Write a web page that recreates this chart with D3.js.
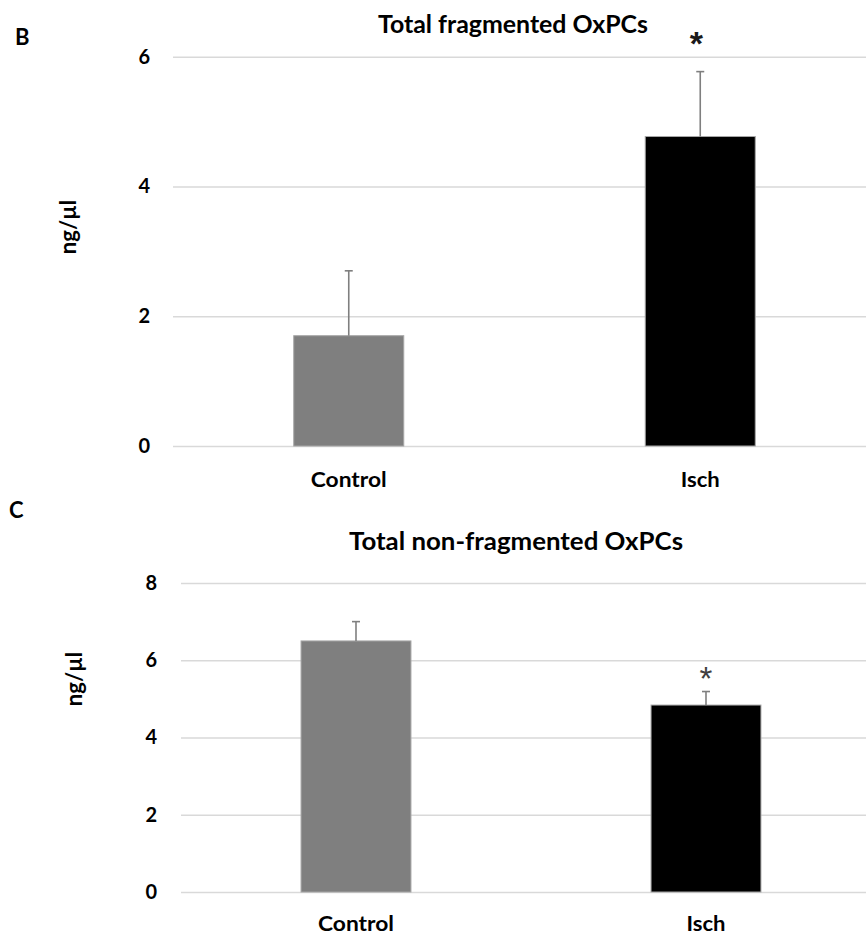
<!DOCTYPE html>
<html>
<head>
<meta charset="utf-8">
<script src="https://cdn.jsdelivr.net/npm/d3@7"></script>
<style>
  html, body { margin: 0; padding: 0; background: #fff; }
  svg { display: block; }
  text { font-family: Lato, "Open Sans", "Liberation Sans", sans-serif; font-weight: bold; fill: #000; }
</style>
</head>
<body>
<svg id="chart" width="866" height="934"></svg>
<script>
// Group names shared by both panels
const categories = ["Control", "Isch"];
const barColors = ["#7f7f7f", "#000000"];

// Panel B: total fragmented OxPCs (mean, SD) in ng/µl
const fragmentedMean = [1.7, 4.77];
const fragmentedErr = [1.0, 1.0];
const fragmentedTicks = [0, 2, 4, 6];
const fragmentedSig = [false, true];

// Panel C: total non-fragmented OxPCs (mean, SD) in ng/µl
const nonFragmentedMean = [6.5, 4.84];
const nonFragmentedErr = [0.5, 0.35];
const nonFragmentedTicks = [0, 2, 4, 6, 8];
const nonFragmentedSig = [false, true];

const svg = d3.select("#chart");
const W = 866;

function drawPanel(o) {
  const g = svg.append("g");

  const x = d3.scaleBand()
    .domain(categories)
    .range([o.left, o.right])
    .paddingInner(o.gap)
    .paddingOuter(o.gap / 2);

  const y = d3.scaleLinear()
    .domain([0, d3.max(o.ticks)])
    .range([o.bottom, o.top]);

  // gridlines + tick labels
  const axis = d3.axisLeft(y)
    .tickValues(o.ticks)
    .tickSizeInner(-(W - o.left))
    .tickSizeOuter(0)
    .tickPadding(o.tickPad)
    .tickFormat(d3.format("d"));

  const ax = g.append("g")
    .attr("transform", `translate(${o.left},0)`)
    .call(axis);
  ax.select(".domain").remove();
  ax.selectAll(".tick line")
    .attr("stroke", "#d9d9d9")
    .attr("stroke-width", 1.6);
  ax.selectAll(".tick text")
    .attr("font-size", 20)
    .attr("font-family", "Lato, 'Open Sans', 'Liberation Sans', sans-serif")
    .attr("font-weight", "bold")
    .attr("fill", "#000");

  // bars
  g.selectAll("rect.bar")
    .data(categories)
    .join("rect")
    .attr("class", "bar")
    .attr("x", d => x(d))
    .attr("width", x.bandwidth())
    .attr("y", (d, i) => y(o.mean[i]))
    .attr("height", (d, i) => y(0) - y(o.mean[i]))
    .attr("fill", (d, i) => barColors[i])
    .attr("stroke", "#a6a6a6")
    .attr("stroke-width", 1);

  // error bars (upper only)
  const cap = 4;
  const eb = g.selectAll("g.err")
    .data(categories)
    .join("g")
    .attr("class", "err")
    .attr("stroke", "#7f7f7f")
    .attr("stroke-width", 1.6);
  eb.append("line")
    .attr("x1", d => x(d) + x.bandwidth() / 2)
    .attr("x2", d => x(d) + x.bandwidth() / 2)
    .attr("y1", (d, i) => y(o.mean[i]))
    .attr("y2", (d, i) => y(o.mean[i] + o.err[i]));
  eb.append("line")
    .attr("x1", d => x(d) + x.bandwidth() / 2 - cap)
    .attr("x2", d => x(d) + x.bandwidth() / 2 + cap)
    .attr("y1", (d, i) => y(o.mean[i] + o.err[i]))
    .attr("y2", (d, i) => y(o.mean[i] + o.err[i]));

  // significance marks
  g.selectAll("text.sig")
    .data(categories.filter((d, i) => o.sig[i]))
    .join("text")
    .attr("class", "sig")
    .attr("x", d => x(d) + x.bandwidth() / 2 + o.sigDx)
    .attr("y", d => y(o.mean[categories.indexOf(d)] + o.err[categories.indexOf(d)]) - o.sigGap)
    .attr("text-anchor", "middle")
    .attr("font-size", o.sigSize)
    .style("font-weight", o.sigWeight)
    .style("font-family", "'Liberation Sans', Arial, sans-serif")
    .style("fill", o.sigColor)
    .text("*");

  // category labels
  g.selectAll("text.cat")
    .data(categories)
    .join("text")
    .attr("class", "cat")
    .attr("x", d => x(d) + x.bandwidth() / 2)
    .attr("y", o.catY)
    .attr("text-anchor", "middle")
    .attr("font-size", 21)
    .attr("textLength", (d, i) => o.catLen[i])
    .attr("lengthAdjust", "spacingAndGlyphs")
    .text(d => d);

  // title
  g.append("text")
    .attr("x", o.titleX)
    .attr("y", o.titleY)
    .attr("text-anchor", "middle")
    .attr("font-size", 24)
    .attr("textLength", o.titleLen)
    .attr("lengthAdjust", "spacingAndGlyphs")
    .text(o.title);

  // y axis title
  g.append("text")
    .attr("transform", `translate(${o.yLabX},${o.yLabY}) rotate(-90)`)
    .attr("text-anchor", "middle")
    .attr("dominant-baseline", "central")
    .attr("font-size", 22)
    .text("ng/µl");

  // panel letter
  g.append("text")
    .attr("x", o.letterX)
    .attr("y", o.letterY)
    .attr("font-size", 22)
    .text(o.letter);
}

drawPanel({
  letter: "B", letterX: 15, letterY: 45,
  title: "Total fragmented OxPCs", titleX: 513, titleY: 33, titleLen: 270,
  mean: fragmentedMean, err: fragmentedErr, ticks: fragmentedTicks, sig: fragmentedSig,
  left: 173, right: 876, top: 56.7, bottom: 446, gap: 0.687, tickPad: 23,
  catY: 487, catLen: [76, 39],
  yLabX: 67, yLabY: 227,
  sigDx: -4, sigGap: 17, sigColor: "#1a1a1a", sigSize: 34, sigWeight: "bold"
});

drawPanel({
  letter: "C", letterX: 9, letterY: 518,
  title: "Total non-fragmented OxPCs", titleX: 516, titleY: 550, titleLen: 334,
  mean: nonFragmentedMean, err: nonFragmentedErr, ticks: nonFragmentedTicks, sig: nonFragmentedSig,
  left: 181, right: 881, top: 583, bottom: 892, gap: 0.686, tickPad: 24,
  catY: 931, catLen: [76, 39],
  yLabX: 73, yLabY: 679,
  sigDx: 0, sigGap: 2, sigColor: "#404040", sigSize: 33, sigWeight: "normal"
});
</script>
</body>
</html>
